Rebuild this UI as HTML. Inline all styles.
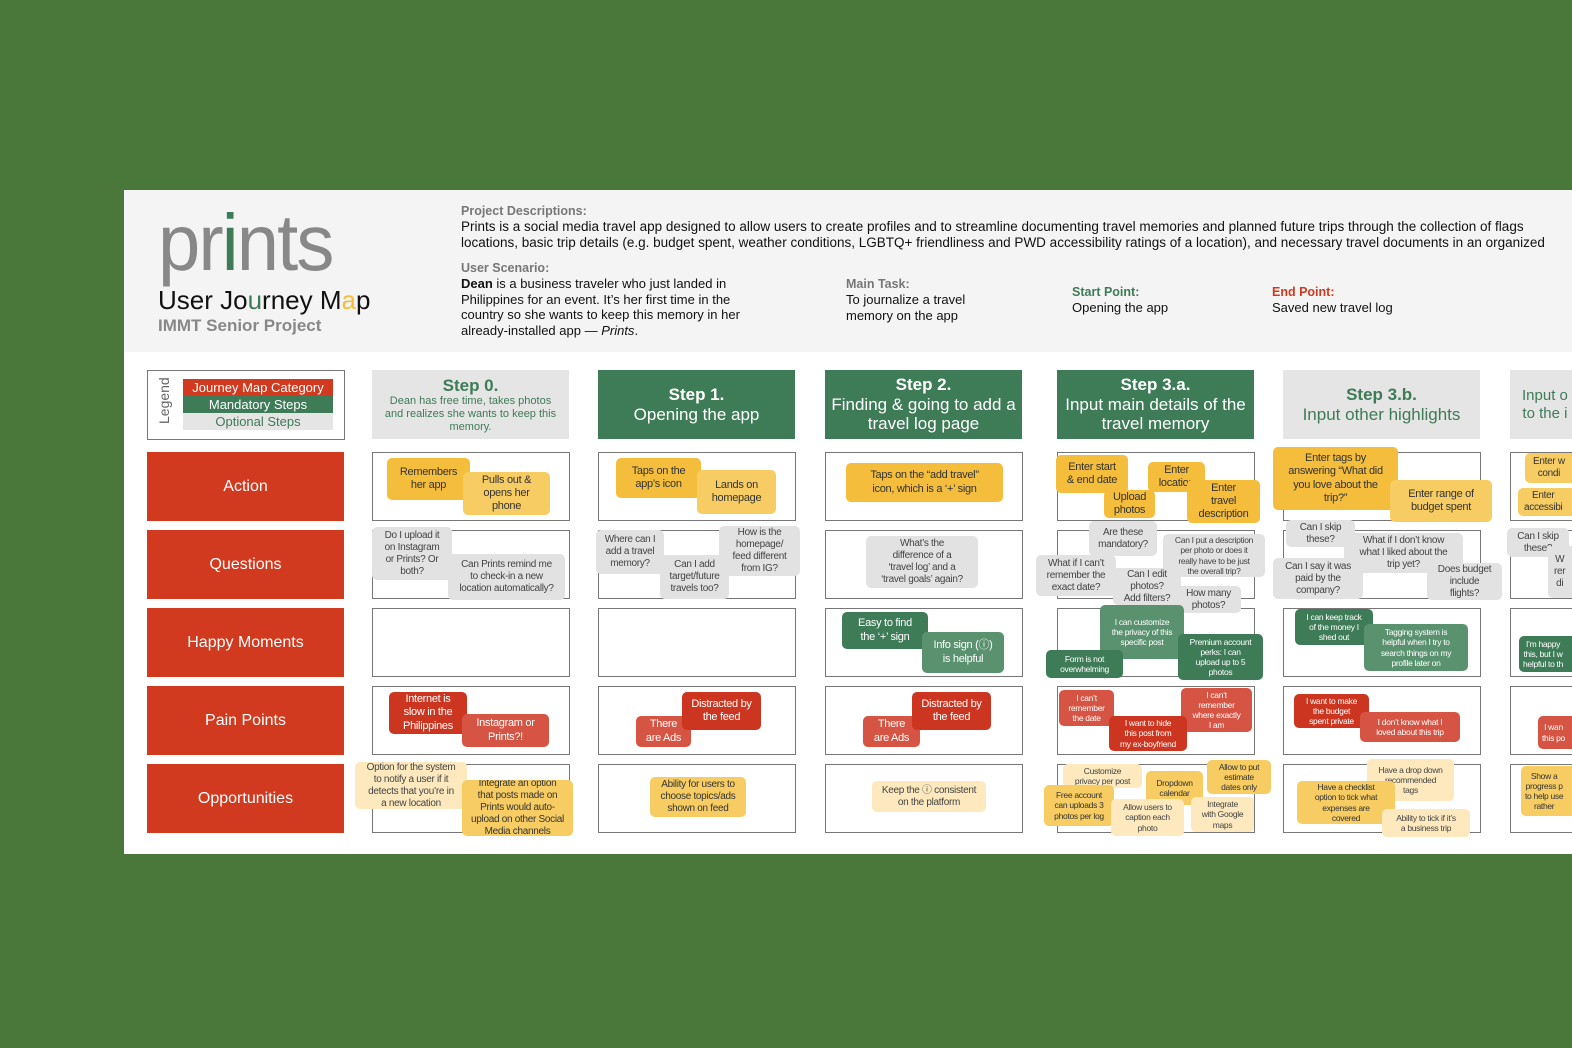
<!DOCTYPE html>
<html><head><meta charset="utf-8"><style>
*{margin:0;padding:0;box-sizing:border-box}
body{width:1572px;height:1048px;background:#4a773a;position:relative;overflow:hidden;font-family:"Liberation Sans",sans-serif}
.a{position:absolute}
#board{position:absolute;left:124px;top:190px;width:1448px;height:664px;background:#fff}
#hdr{position:absolute;left:124px;top:190px;width:1448px;height:162px;background:#f4f4f4}
.box{position:absolute;border:1.5px solid #777;background:#fff}
.cat{position:absolute;left:147px;width:197px;height:69px;background:#d13a1f;color:#fff;font-size:16px;display:flex;align-items:center;justify-content:center}
.sh{position:absolute;top:370px;height:69px;width:197px;display:flex;flex-direction:column;align-items:center;justify-content:center;text-align:center;line-height:1.15}
.g{background:#3e7b57;color:#fff}
.o{background:#e5e5e5;color:#3e7b57}
.n{position:absolute;border-radius:5px;display:flex;align-items:center;justify-content:center;text-align:center;font-size:10px;line-height:1.2;letter-spacing:-0.3px;overflow:hidden;white-space:normal;font-family:"Liberation Sans Narrow","Liberation Sans",sans-serif;padding:0 2px}
.y{background:#f4bd3c;color:#333}
.ly{background:#f7cd63;color:#333}
.p{background:#fde9bd;color:#444}
.q{background:#e2e2e2;color:#444}
.dg{background:#3e7b57;color:#fff}
.lg{background:#5a926f;color:#fff}
.dr{background:#cc3520;color:#fff}
.lr{background:#d65443;color:#fff}
.t{position:absolute;white-space:nowrap;font-size:13.5px;color:#111;line-height:15.5px}
.lb{position:absolute;white-space:nowrap;font-size:12.5px;color:#777;font-weight:bold}
</style></head><body>
<div id="board"></div>
<div id="hdr"></div>

<div class="a" style="left:158px;top:198px;font-size:80px;color:#888;letter-spacing:-2px;line-height:90px;transform:scaleX(0.95);transform-origin:left">pr<span style="color:#3e7b57">i</span>nts</div>
<div class="a" style="left:158px;top:285px;font-size:26px;color:#111;white-space:nowrap">User Jo<span style="color:#3e7b57">u</span>rney M<span style="color:#f4bd3c">a</span>p</div>
<div class="a" style="left:158px;top:316px;font-size:17px;color:#888;font-weight:bold;white-space:nowrap">IMMT Senior Project</div>

<div class="lb" style="left:461px;top:204px">Project Descriptions:</div>
<div class="t" style="left:461px;top:219px">Prints is a social media travel app designed to allow users to create profiles and to streamline documenting travel memories and planned future trips through the collection of flags</div>
<div class="t" style="left:461px;top:235px">locations, basic trip details (e.g. budget spent, weather conditions, LGBTQ+ friendliness and PWD accessibility ratings of a location), and necessary travel documents in an organized</div>
<div class="lb" style="left:461px;top:261px">User Scenario:</div>
<div class="t" style="left:461px;top:276px;font-size:13px"><b>Dean</b> is a business traveler who just landed in<br>Philippines for an event. It’s her first time in the<br>country so she wants to keep this memory in her<br>already-installed app — <i>Prints</i>.</div>
<div class="lb" style="left:846px;top:277px">Main Task:</div>
<div class="t" style="left:846px;top:292px;font-size:13px">To journalize a travel<br>memory on the app</div>
<div class="lb" style="left:1072px;top:285px;color:#3e7b57">Start Point:</div>
<div class="t" style="left:1072px;top:300px;font-size:13px">Opening the app</div>
<div class="lb" style="left:1272px;top:285px;color:#d13a1f">End Point:</div>
<div class="t" style="left:1272px;top:300px;font-size:13px">Saved new travel log</div>

<!-- legend -->
<div class="box" style="left:147px;top:370px;width:198px;height:70px"></div>
<div class="a" style="left:144px;top:396px;transform:rotate(-90deg);font-size:14px;color:#666;width:40px;text-align:center">Legend</div>
<div class="a" style="left:183px;top:379px;width:150px;height:17px;background:#d13a1f;color:#fff;font-size:13px;text-align:center;line-height:17px">Journey Map Category</div>
<div class="a" style="left:183px;top:396px;width:150px;height:17px;background:#3e7b57;color:#fff;font-size:13px;text-align:center;line-height:17px">Mandatory Steps</div>
<div class="a" style="left:183px;top:413px;width:150px;height:17px;background:#e5e5e5;color:#3e7b57;font-size:13px;text-align:center;line-height:17px">Optional Steps</div>

<!-- categories -->
<div class="cat" style="top:452px">Action</div>
<div class="cat" style="top:530px">Questions</div>
<div class="cat" style="top:608px">Happy Moments</div>
<div class="cat" style="top:686px">Pain Points</div>
<div class="cat" style="top:764px">Opportunities</div>

<!-- step headers -->
<div class="sh o" style="left:372px"><b style="font-size:17px">Step 0.</b><span style="font-size:11px;padding:0 10px">Dean has free time, takes photos and realizes she wants to keep this memory.</span></div>
<div class="sh g" style="left:598px;font-size:17px"><b>Step 1.</b>Opening the app</div>
<div class="sh g" style="left:825px;font-size:17px"><b>Step 2.</b>Finding &amp; going to add a travel log page</div>
<div class="sh g" style="left:1057px;font-size:17px"><b>Step 3.a.</b>Input main details of the travel memory</div>
<div class="sh o" style="left:1283px;font-size:17px"><b>Step 3.b.</b>Input other highlights</div>
<div class="sh o" style="left:1510px;font-size:15px;align-items:flex-start;padding-left:12px;white-space:nowrap">Input o<br>to the i</div>

<!-- grid boxes -->
<div class="box" style="left:372px;top:452px;width:198px;height:69px"></div>
<div class="box" style="left:372px;top:530px;width:198px;height:69px"></div>
<div class="box" style="left:372px;top:608px;width:198px;height:69px"></div>
<div class="box" style="left:372px;top:686px;width:198px;height:69px"></div>
<div class="box" style="left:372px;top:764px;width:198px;height:69px"></div>
<div class="box" style="left:598px;top:452px;width:198px;height:69px"></div>
<div class="box" style="left:598px;top:530px;width:198px;height:69px"></div>
<div class="box" style="left:598px;top:608px;width:198px;height:69px"></div>
<div class="box" style="left:598px;top:686px;width:198px;height:69px"></div>
<div class="box" style="left:598px;top:764px;width:198px;height:69px"></div>
<div class="box" style="left:825px;top:452px;width:198px;height:69px"></div>
<div class="box" style="left:825px;top:530px;width:198px;height:69px"></div>
<div class="box" style="left:825px;top:608px;width:198px;height:69px"></div>
<div class="box" style="left:825px;top:686px;width:198px;height:69px"></div>
<div class="box" style="left:825px;top:764px;width:198px;height:69px"></div>
<div class="box" style="left:1057px;top:452px;width:198px;height:69px"></div>
<div class="box" style="left:1057px;top:530px;width:198px;height:69px"></div>
<div class="box" style="left:1057px;top:608px;width:198px;height:69px"></div>
<div class="box" style="left:1057px;top:686px;width:198px;height:69px"></div>
<div class="box" style="left:1057px;top:764px;width:198px;height:69px"></div>
<div class="box" style="left:1283px;top:452px;width:198px;height:69px"></div>
<div class="box" style="left:1283px;top:530px;width:198px;height:69px"></div>
<div class="box" style="left:1283px;top:608px;width:198px;height:69px"></div>
<div class="box" style="left:1283px;top:686px;width:198px;height:69px"></div>
<div class="box" style="left:1283px;top:764px;width:198px;height:69px"></div>
<div class="box" style="left:1510px;top:452px;width:198px;height:69px"></div>
<div class="box" style="left:1510px;top:530px;width:198px;height:69px"></div>
<div class="box" style="left:1510px;top:608px;width:198px;height:69px"></div>
<div class="box" style="left:1510px;top:686px;width:198px;height:69px"></div>
<div class="box" style="left:1510px;top:764px;width:198px;height:69px"></div>

<!-- Step 0 notes -->
<div class="n y" style="left:387px;top:458px;width:83px;height:42px;font-size:11px">Remembers<br>her app</div>
<div class="n ly" style="left:463px;top:472px;width:87px;height:43px;font-size:11px">Pulls out &amp;<br>opens her<br>phone</div>
<div class="n q" style="left:372px;top:527px;width:80px;height:53px">Do I upload it<br>on Instagram<br>or Prints? Or<br>both?</div>
<div class="n q" style="left:448px;top:554px;width:117px;height:46px">Can Prints remind me<br>to check-in a new<br>location automatically?</div>
<div class="n dr" style="left:389px;top:692px;width:78px;height:42px;font-size:11px">Internet is<br>slow in the<br>Philippines</div>
<div class="n lr" style="left:462px;top:714px;width:87px;height:33px;font-size:11px">Instagram or<br>Prints?!</div>
<div class="n p" style="left:355px;top:762px;width:112px;height:47px">Option for the system<br>to notify a user if it<br>detects that you’re in<br>a new location</div>
<div class="n ly" style="left:462px;top:780px;width:111px;height:56px">Integrate an option<br>that posts made on<br>Prints would auto-<br>upload on other Social<br>Media channels</div>

<!-- Step 1 -->
<div class="n y" style="left:616px;top:458px;width:85px;height:40px;font-size:11px">Taps on the<br>app’s icon</div>
<div class="n ly" style="left:697px;top:470px;width:79px;height:44px;font-size:11px">Lands on<br>homepage</div>
<div class="n q" style="left:596px;top:530px;width:68px;height:44px">Where can I<br>add a travel<br>memory?</div>
<div class="n q" style="left:660px;top:555px;width:69px;height:44px">Can I add<br>target/future<br>travels too?</div>
<div class="n q" style="left:719px;top:526px;width:81px;height:50px">How is the<br>homepage/<br>feed different<br>from IG?</div>
<div class="n lr" style="left:636px;top:716px;width:55px;height:31px;font-size:11px">There<br>are Ads</div>
<div class="n dr" style="left:682px;top:692px;width:79px;height:38px;font-size:11px">Distracted by<br>the feed</div>
<div class="n ly" style="left:650px;top:777px;width:96px;height:40px">Ability for users to<br>choose topics/ads<br>shown on feed</div>

<!-- Step 2 -->
<div class="n y" style="left:846px;top:463px;width:157px;height:39px;font-size:11px">Taps on the “add travel”<br>icon, which is a ‘+’ sign</div>
<div class="n q" style="left:866px;top:536px;width:112px;height:52px">What’s the<br>difference of a<br>‘travel log’ and a<br>‘travel goals’ again?</div>
<div class="n dg" style="left:842px;top:612px;width:86px;height:37px;font-size:11px">Easy to find<br>the ‘+’ sign</div>
<div class="n lg" style="left:922px;top:632px;width:82px;height:41px;font-size:11px">Info sign (ⓘ)<br>is helpful</div>
<div class="n lr" style="left:863px;top:716px;width:57px;height:31px;font-size:11px">There<br>are Ads</div>
<div class="n dr" style="left:912px;top:692px;width:79px;height:38px;font-size:11px">Distracted by<br>the feed</div>
<div class="n p" style="left:872px;top:781px;width:114px;height:31px">Keep the ⓘ consistent<br>on the platform</div>

<!-- Step 3a -->
<div class="n y" style="left:1056px;top:455px;width:72px;height:38px;font-size:11px">Enter start<br>&amp; end date</div>
<div class="n y" style="left:1148px;top:462px;width:57px;height:30px;font-size:11px">Enter<br>location</div>
<div class="n y" style="left:1104px;top:490px;width:51px;height:28px;font-size:11px">Upload<br>photos</div>
<div class="n y" style="left:1187px;top:480px;width:73px;height:43px;font-size:11px">Enter<br>travel<br>description</div>
<div class="n q" style="left:1089px;top:521px;width:68px;height:35px">Are these<br>mandatory?</div>
<div class="n q" style="left:1163px;top:534px;width:102px;height:43px;font-size:8.5px">Can I put a description<br>per photo or does it<br>really have to be just<br>the overall trip?</div>
<div class="n q" style="left:1036px;top:555px;width:80px;height:41px">What if I can’t<br>remember the<br>exact date?</div>
<div class="n q" style="left:1113px;top:568px;width:68px;height:37px">Can I edit<br>photos?<br>Add filters?</div>
<div class="n q" style="left:1176px;top:586px;width:65px;height:27px">How many<br>photos?</div>
<div class="n lg" style="left:1100px;top:605px;width:84px;height:54px;font-size:8.5px">I can customize<br>the privacy of this<br>specific post</div>
<div class="n dg" style="left:1046px;top:650px;width:77px;height:28px;font-size:8.5px">Form is not<br>overwhelming</div>
<div class="n dg" style="left:1178px;top:634px;width:85px;height:46px;font-size:8.5px">Premium account<br>perks: I can<br>upload up to 5<br>photos</div>
<div class="n lr" style="left:1059px;top:690px;width:55px;height:36px;font-size:8.5px">I can’t<br>remember<br>the date</div>
<div class="n lr" style="left:1181px;top:688px;width:71px;height:44px;font-size:8.5px">I can’t<br>remember<br>where exactly<br>I am</div>
<div class="n dr" style="left:1109px;top:716px;width:78px;height:35px;font-size:8.5px">I want to hide<br>this post from<br>my ex-boyfriend</div>
<div class="n p" style="left:1063px;top:764px;width:79px;height:24px;font-size:8.5px">Customize<br>privacy per post</div>
<div class="n ly" style="left:1146px;top:771px;width:57px;height:34px;font-size:8.5px">Dropdown<br>calendar</div>
<div class="n ly" style="left:1207px;top:760px;width:64px;height:34px;font-size:8.5px">Allow to put<br>estimate<br>dates only</div>
<div class="n ly" style="left:1044px;top:785px;width:70px;height:41px;font-size:8.5px">Free account<br>can uploads 3<br>photos per log</div>
<div class="n p" style="left:1111px;top:799px;width:73px;height:37px;font-size:8.5px">Allow users to<br>caption each<br>photo</div>
<div class="n p" style="left:1191px;top:797px;width:63px;height:35px;font-size:8.5px">Integrate<br>with Google<br>maps</div>

<!-- Step 3b -->
<div class="n y" style="left:1273px;top:447px;width:125px;height:63px;font-size:11px">Enter tags by<br>answering “What did<br>you love about the<br>trip?”</div>
<div class="n ly" style="left:1390px;top:480px;width:102px;height:42px;font-size:11px">Enter range of<br>budget spent</div>
<div class="n q" style="left:1286px;top:520px;width:69px;height:27px">Can I skip<br>these?</div>
<div class="n q" style="left:1344px;top:533px;width:119px;height:40px">What if I don’t know<br>what I liked about the<br>trip yet?</div>
<div class="n q" style="left:1273px;top:558px;width:90px;height:41px">Can I say it was<br>paid by the<br>company?</div>
<div class="n q" style="left:1427px;top:563px;width:75px;height:37px">Does budget<br>include<br>flights?</div>
<div class="n dg" style="left:1295px;top:609px;width:78px;height:36px;font-size:8.5px">I can keep track<br>of the money I<br>shed out</div>
<div class="n lg" style="left:1364px;top:624px;width:104px;height:47px;font-size:8.5px">Tagging system is<br>helpful when I try to<br>search things on my<br>profile later on</div>
<div class="n dr" style="left:1294px;top:694px;width:75px;height:34px;font-size:8.5px">I want to make<br>the budget<br>spent private</div>
<div class="n lr" style="left:1360px;top:712px;width:100px;height:30px;font-size:8.5px">I don’t know what I<br>loved about this trip</div>
<div class="n p" style="left:1367px;top:759px;width:87px;height:42px;font-size:8.5px">Have a drop down<br>recommended<br>tags</div>
<div class="n ly" style="left:1297px;top:781px;width:98px;height:43px;font-size:8.5px">Have a checklist<br>option to tick what<br>expenses are<br>covered</div>
<div class="n p" style="left:1382px;top:809px;width:88px;height:28px;font-size:8.5px">Ability to tick if it’s<br>a business trip</div>

<!-- next col (cut) -->
<div class="n ly" style="left:1525px;top:453px;width:60px;height:30px;font-size:10px;justify-content:flex-start;padding-left:8px">Enter w<br>condi</div>
<div class="n ly" style="left:1518px;top:488px;width:60px;height:28px;font-size:10px;justify-content:flex-start;padding-left:6px">Enter<br>accessibi</div>
<div class="n q" style="left:1507px;top:528px;width:62px;height:29px">Can I skip<br>these?</div>
<div class="n q" style="left:1548px;top:546px;width:30px;height:52px;justify-content:flex-start;padding-left:6px">W<br>rer<br>di</div>
<div class="n dg" style="left:1519px;top:636px;width:60px;height:36px;font-size:8.5px;justify-content:flex-start;padding-left:4px">I’m happy<br>this, but I w<br>helpful to th</div>
<div class="n lr" style="left:1538px;top:716px;width:40px;height:33px;font-size:8.5px;justify-content:flex-start;padding-left:4px">I wan<br>this po</div>
<div class="n ly" style="left:1521px;top:766px;width:60px;height:50px;font-size:8.5px;justify-content:flex-start;padding-left:4px">Show a<br>progress p<br>to help use<br>rather</div>
</body></html>
